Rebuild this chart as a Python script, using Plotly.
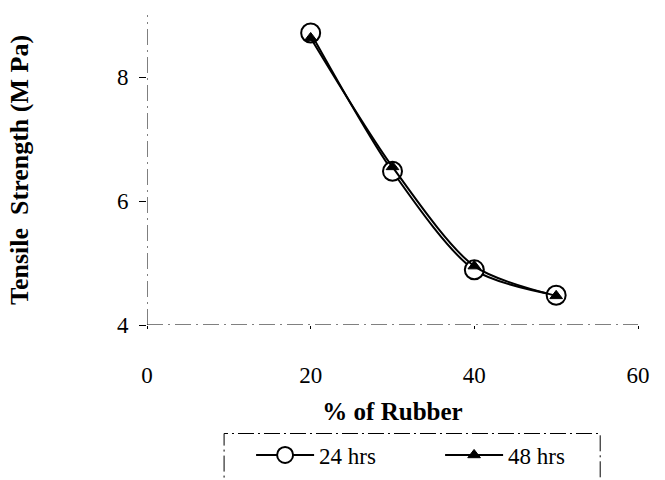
import plotly.graph_objects as go

# Tensile strength vs rubber content, two curing times
rubber_pct = [20, 30, 40, 50]
strength_24h = [8.71, 6.48, 4.89, 4.48]
strength_48h = [8.63, 6.55, 4.95, 4.47]
series_names = ["24 hrs", "48 hrs"]
x_ticks = [0, 20, 40, 60]
y_ticks = [4, 6, 8]

SERIF = "Liberation Serif, Times New Roman, serif"
DASH = "16px,5px,2px,5px"

fig = go.Figure()
fig.add_trace(go.Scatter(
    x=rubber_pct, y=strength_24h, name=series_names[0],
    mode="lines+markers",
    line=dict(color="black", width=2, shape="spline", smoothing=0.8),
    marker=dict(symbol="circle", size=19, color="white",
                line=dict(color="black", width=2)),
))
fig.add_trace(go.Scatter(
    x=rubber_pct, y=strength_48h, name=series_names[1],
    mode="lines+markers",
    line=dict(color="black", width=2, shape="spline", smoothing=0.8),
    marker=dict(symbol="triangle-up", size=11, color="black",
                line=dict(color="black", width=1)),
))

# dash-dot axis lines
fig.add_shape(type="line", xref="x", yref="y", x0=0, x1=0, y0=4, y1=9,
              line=dict(color="black", width=1, dash=DASH), layer="below")
fig.add_shape(type="line", xref="x", yref="y", x0=0, x1=60, y0=4, y1=4,
              line=dict(color="black", width=1, dash=DASH), layer="below")

# dashed legend frame
fig.add_shape(type="rect", xref="paper", yref="paper",
              x0=0.157, x1=0.923, y0=-0.62, y1=-0.35,
              line=dict(color="black", width=1, dash="16px,4px,2px,4px"))

fig.update_layout(
    width=665, height=480,
    margin=dict(l=147, r=27, t=15, b=155, autoexpand=False),
    paper_bgcolor="white", plot_bgcolor="white",
    font=dict(family=SERIF, color="black", size=23),
    showlegend=True,
    legend=dict(orientation="h", x=0.212, xanchor="left",
                y=-0.35, yanchor="top",
                font=dict(family=SERIF, size=23),
                itemwidth=58, entrywidth=116,
                bgcolor="rgba(0,0,0,0)"),
    xaxis=dict(range=[0, 60], tickvals=x_ticks, showgrid=False,
               zeroline=False, showline=False, ticks="outside", ticklen=3,
               tickcolor="black", ticklabelstandoff=26, automargin=False,
               title=dict(text="<b>% of Rubber</b>", standoff=15,
                          font=dict(size=25))),
    yaxis=dict(range=[4, 9], tickvals=y_ticks, showgrid=False,
               zeroline=False, showline=False, ticks="outside", ticklen=7,
               tickcolor="black", ticklabelstandoff=6, automargin=False,
               title=dict(text="<b>Tensile  Strength (M Pa)</b>", standoff=80,
                          font=dict(size=26))),
)

fig.write_html("out.html")
